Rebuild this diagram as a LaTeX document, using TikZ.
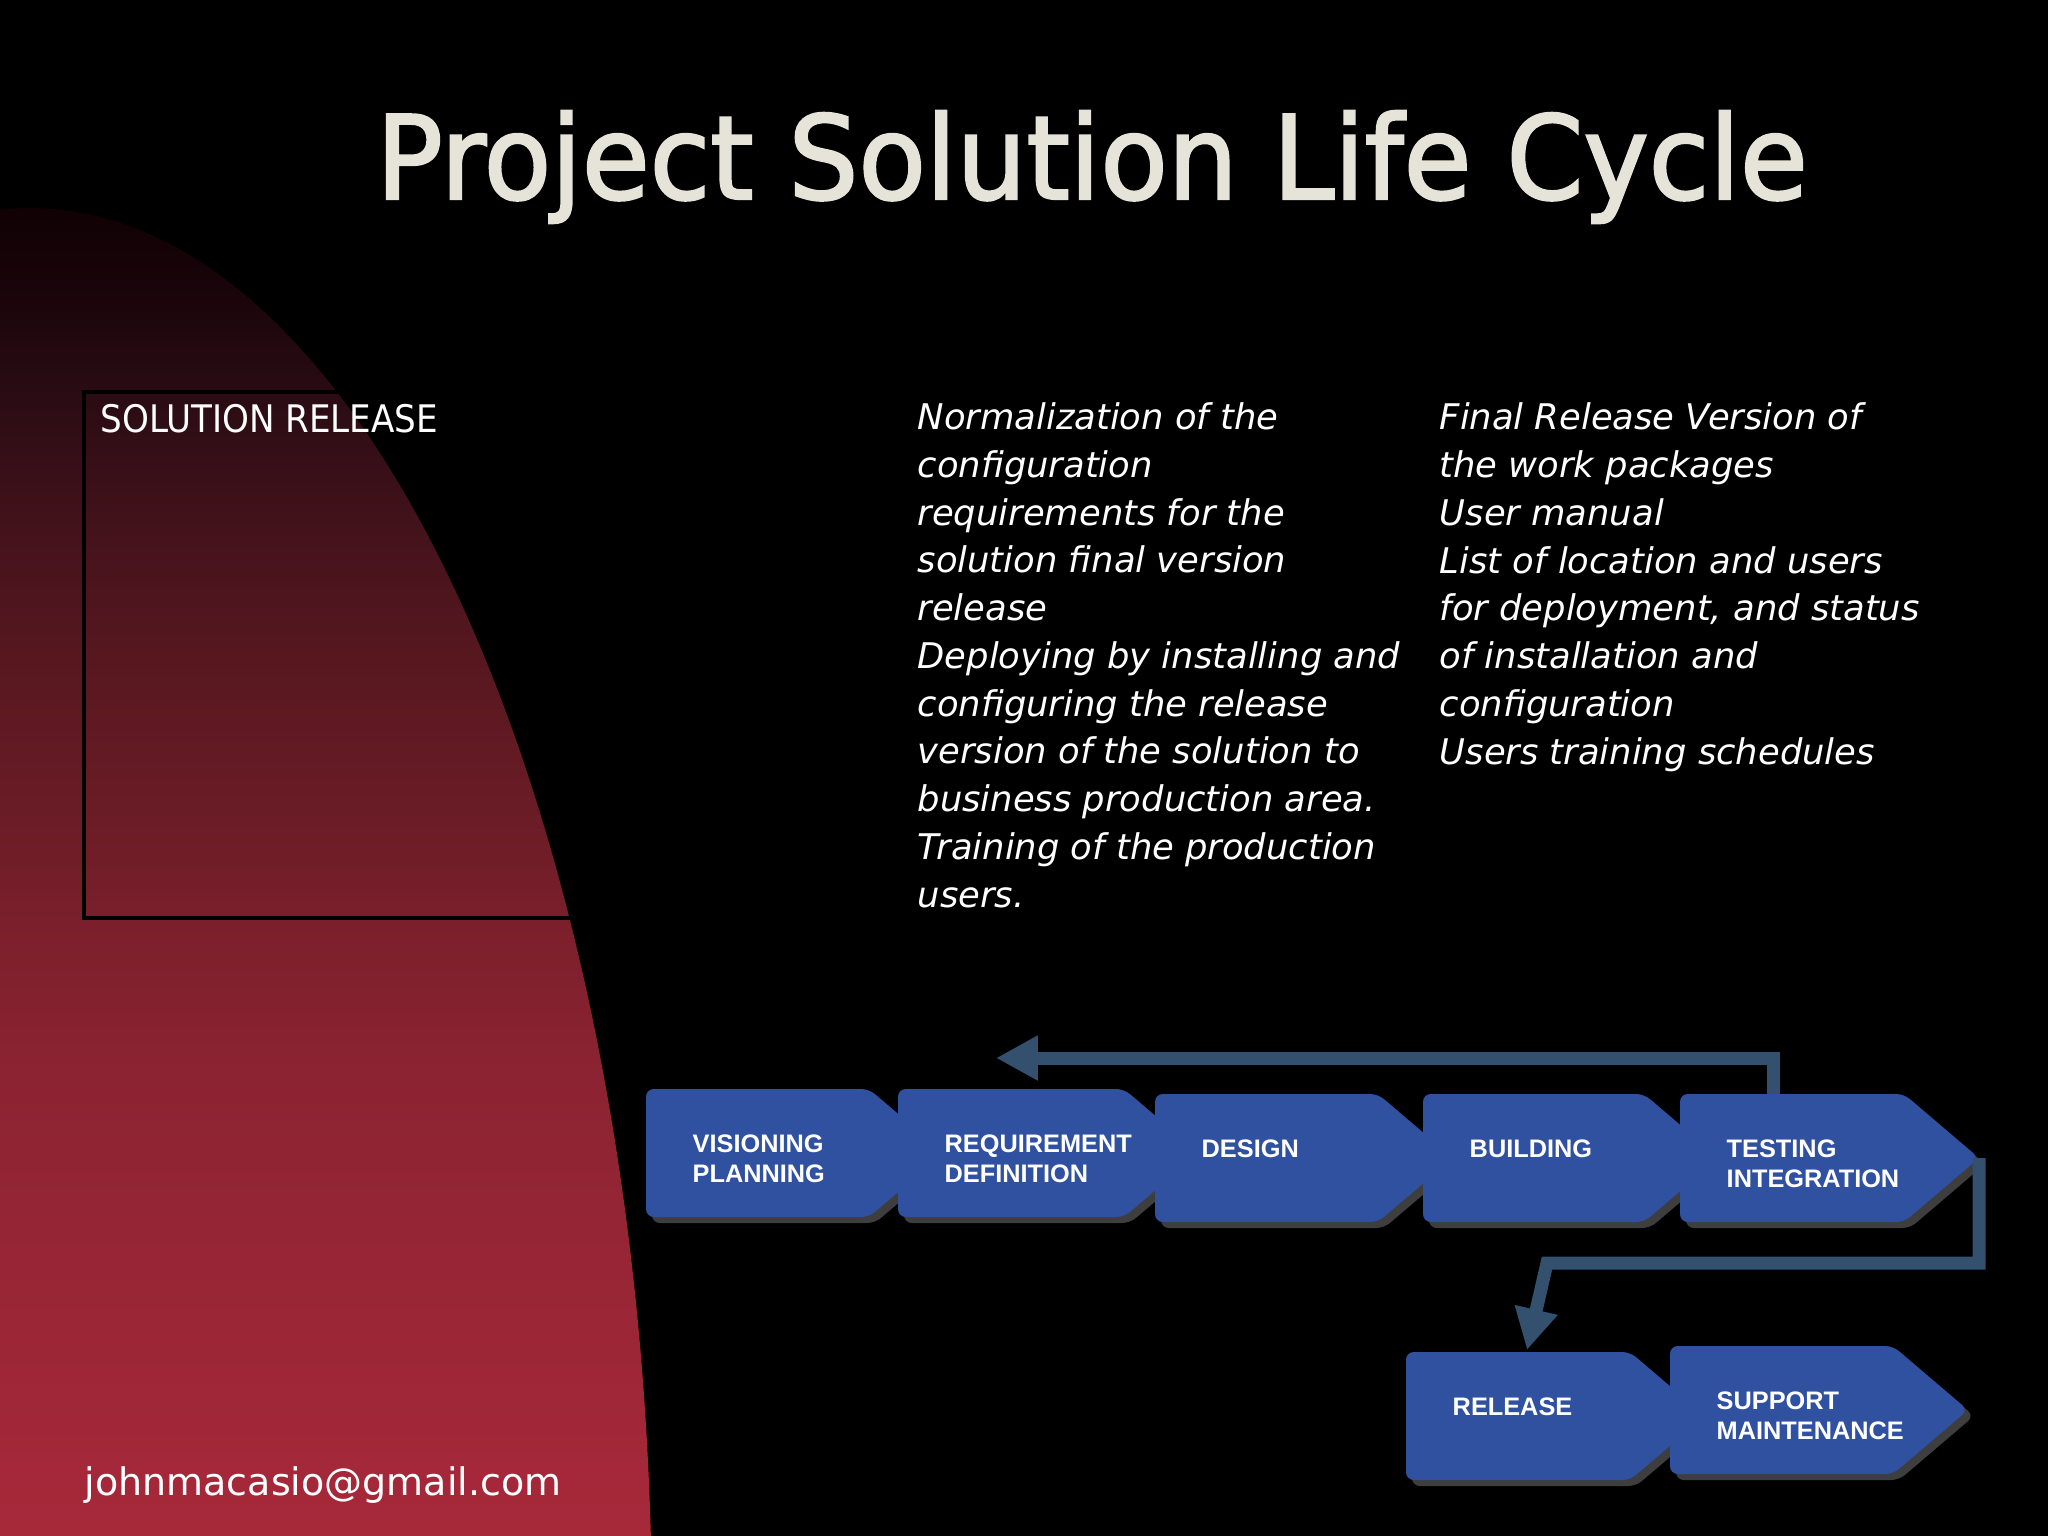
\documentclass[tikz,border=0pt]{standalone}
\usepackage{fontspec}
\setmainfont{DejaVu Sans}
\newfontfamily\titlefont[FakeStretch=0.95,FakeBold=2]{DejaVu Sans}
\newfontfamily\condfont{DejaVu Sans Condensed}
\newfontfamily\boxfont{Liberation Sans}
\usetikzlibrary{arrows.meta,calc}
\definecolor{chevblue}{HTML}{3050A0}
\definecolor{chevshadow}{HTML}{3E3E3E}
\definecolor{connblue}{HTML}{33506E}
\definecolor{titlecol}{HTML}{E6E4D8}
\pgfdeclareverticalshading{redgrad}{100bp}{rgb(0bp)=(0.651,0.161,0.227); rgb(25bp)=(0.651,0.161,0.227); rgb(27.24bp)=(0.643,0.157,0.224); rgb(32.16bp)=(0.612,0.149,0.212); rgb(37.12bp)=(0.580,0.145,0.204); rgb(42.07bp)=(0.549,0.137,0.196); rgb(47bp)=(0.494,0.125,0.176); rgb(51.96bp)=(0.416,0.110,0.149); rgb(56.92bp)=(0.353,0.094,0.125); rgb(61.84bp)=(0.278,0.075,0.110); rgb(66.8bp)=(0.180,0.051,0.082); rgb(71.72bp)=(0.094,0.016,0.039); rgb(74.7bp)=(0.063,0,0.012); rgb(100bp)=(0.063,0,0.012)}
\tikzset{
  boxtext/.style={font=\boxfont\bfseries\fontsize{7.2}{8.68}\selectfont, text=white, anchor=north west, inner sep=0pt, align=left},
  bodytext/.style={font=\itshape\fontsize{10.05}{13.57}\selectfont, text=white, anchor=base west, inner sep=0pt, align=left},
  conn/.style={draw=connblue, line width=3.7pt, line join=miter},
  chevbody/.style={fill=chevblue, rounded corners=2.2pt},
  chevshad/.style={fill=chevshadow, rounded corners=2.2pt}
}
\newcommand{\mychev}[5]{%
  \fill[chevshad] ({#2+6},{#3+6}) -- ({#4+6},{#3+6}) -- ({#4+81},{#3+70}) -- ({#4+6},{#3+134}) -- ({#2+6},{#3+134}) -- cycle;
  \fill[chevbody] (#2,#3) -- (#4,#3) -- ({#4+75},{#3+64}) -- (#4,{#3+128}) -- (#2,{#3+128}) -- cycle;
  \coordinate (#1-nw) at (#2,#3);
  \coordinate (#1-tip) at ({#4+75},{#3+64});
  \node[boxtext] (#1) at ({#2+46},{#3+45}) {#5};
}
\begin{document}
\begin{tikzpicture}[x=0.01cm,y=-0.01cm]
\useasboundingbox (0,0) rectangle (2048,1536);
\fill[black] (0,0) rectangle (2048,1536);
% red background arc
\begin{scope}
  \clip (30,1623) ellipse [x radius=622, y radius=1415];
  \shade[shading=redgrad] (0,195) rectangle (700,1536);
\end{scope}
\draw[black, line width=0.9pt] (84,392) rectangle (880,918);
\node[font=\condfont\fontsize{10.8}{13}\selectfont, text=white, anchor=base west, inner sep=0pt] (solrel) at (100,432) {SOLUTION RELEASE};
\node[font=\titlefont\fontsize{33}{38}\selectfont, text=titlecol, anchor=base, inner sep=0pt] (title) at (1092,199) {Project Solution Life Cycle};
\node[font=\fontsize{10.8}{13}\selectfont, text=white, anchor=base west, inner sep=0pt] (email) at (84,1495) {johnmacasio@gmail.com};
\node[bodytext] (col1) at (917,907) {Normalization of the\\configuration\\requirements for the\\solution final version\\release\\Deploying by installing and\\configuring the release\\version of the solution to\\business production area.\\Training of the production\\users.};
\node[bodytext] (col2) at (1439,764) {Final Release Version of\\the work packages\\User manual\\List of location and users\\for deployment, and status\\of installation and\\configuration\\Users training schedules};
% chevrons
\mychev{vision}{646}{1089}{869}{VISIONING\\PLANNING}
\mychev{requirement}{898}{1089}{1124}{REQUIREMENT\\DEFINITION}
\mychev{design}{1155}{1094}{1378}{DESIGN}
\mychev{building}{1423}{1094}{1644}{BUILDING}
\mychev{testing}{1680}{1094}{1904}{TESTING\\INTEGRATION}
\mychev{release}{1406}{1352}{1630}{RELEASE}
\mychev{support}{1670}{1346}{1893}{SUPPORT\\MAINTENANCE}
% connectors
\coordinate (testtop) at ($(testing-nw)+(93,0)$);
\coordinate (backend) at (996,1058);
\draw[conn, -{Triangle[length=11.9pt,width=12pt]}] (testtop) |- (backend);
\coordinate (turn) at (1547,1263);
\coordinate (relin) at ($(release-nw)+(121,-2)$);
\draw[conn, -{Triangle[length=11.7pt,width=11.7pt]}] (testing-tip) -- (testing-tip |- turn) -- (turn) -- (relin);
\end{tikzpicture}
\end{document}
